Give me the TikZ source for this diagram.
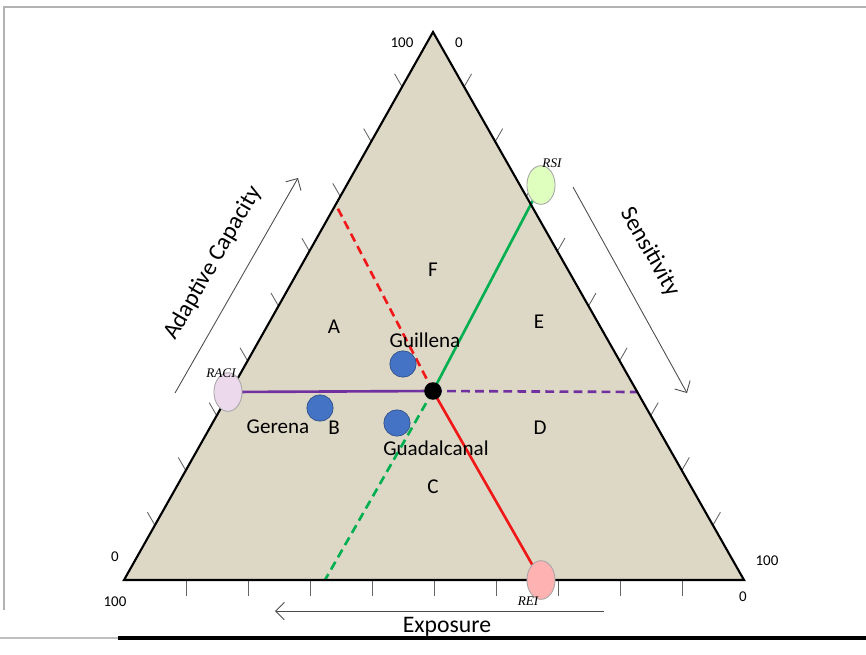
\documentclass[tikz,border=0pt]{standalone}
\usepackage{fontspec}
\setmainfont{Carlito}
\newfontfamily\idxfont{Liberation Serif}
\usepackage{tikz}
\usetikzlibrary{calc,arrows.meta,shapes.geometric}
\usepackage{xcolor}
\definecolor{sand}{HTML}{DDD8C6}
\definecolor{vpurple}{HTML}{7030A0}
\definecolor{vgreen}{HTML}{00B050}
\definecolor{vred}{HTML}{F01818}
\definecolor{siteblue}{HTML}{4472C4}

\begin{document}
\begin{tikzpicture}[x=0.02cm,y=-0.02cm,
  edge/.style={line width=1.2pt,line join=miter},
  tickmark/.style={gray!80!black,line width=0.5pt},
  axis/.style={-{Straight Barb[length=5pt]},gray!60!black,line width=0.5pt},
  axislabel/.style={font=\fontsize{13.5}{15}\selectfont},
  num/.style={font=\fontsize{8.5}{10}\selectfont},
  region/.style={font=\fontsize{12}{14}\selectfont},
  index/.style={draw=gray!70,line width=0.5pt,ellipse,minimum width=16,minimum height=22,inner sep=0pt},
  idx/.style={font=\idxfont\itshape\fontsize{7.5}{9}\selectfont},
  site/.style={circle,fill=siteblue,draw=siteblue!70!black,line width=0.4pt,minimum size=15,inner sep=0pt},
  score/.style={line width=1.5pt},
  scoredash/.style={score,dash pattern=on 5pt off 3pt},
  every node/.style={align=center}]

  \useasboundingbox (0,0) rectangle (866,654);

  % frame of the slide
  \draw[gray!60,line width=0.6pt] (866,7) -- (4,7) -- (4,610);
  \draw[gray!50,line width=0.6pt] (0,638) -- (118,638);
  \draw[black,line width=2pt] (118,638) -- (866,638);

  % the triangle
  \coordinate (top) at (433,32);
  \coordinate (bl) at (124,580);
  \coordinate (br) at (744,580);
  \fill[sand] (top) -- (bl) -- (br) -- cycle;

  \foreach \i in {1,...,9} {
    \draw[tickmark] ($(bl)!\i/10!(br)$) -- ++(0,16);
    \draw[tickmark] ($(bl)!\i/10!(top)$) -- ++(-7.5,-13);
    \draw[tickmark] ($(br)!\i/10!(top)$) -- ++(7.5,-13);
  }

  \node[num] (t100) at (402,43) {100};
  \node[num] (t0) at (459,43) {0};
  \node[num] (l0) at (115,557) {0};
  \node[num] (l100) at (115,602) {100};
  \node[num] (r100) at (767,561) {100};
  \node[num] (r0) at (743,597) {0};

  % regions
  \node[region] (rF) at (433,270) {F};
  \node[region] (rA) at (334,327) {A};
  \node[region] (rE) at (539,322) {E};
  \node[region] (rB) at (334,428) {B};
  \node[region] (rD) at (540,428) {D};
  \node[region] (rC) at (433,487) {C};

  % scores
  \coordinate (mid) at (433,391);
  \coordinate (racipos) at (228,392);
  \coordinate (rsipos) at (541,185);
  \coordinate (reipos) at (541,580);
  \coordinate (acEnd) at (638,392);
  \coordinate (sEnd) at (325,580);
  \coordinate (eEnd) at (337,207);

  \draw[score,vpurple] (racipos) -- (mid);
  \draw[scoredash,vpurple] (mid) -- (acEnd);
  \draw[score,vgreen] (rsipos) -- (mid);
  \draw[scoredash,vgreen] (mid) -- (sEnd);
  \draw[score,vred] (reipos) -- (mid);
  \draw[scoredash,vred] (mid) -- (eEnd);

  \draw[edge] (top) -- (bl) -- (br) -- cycle;

  \node[circle,fill=black,minimum size=10,inner sep=0pt] (centre) at (mid) {};
  \node[index,fill=violet!15] (raci) at (racipos) {};
  \node[index,fill=green!50!yellow!25] (rsi) at (rsipos) {};
  \node[index,fill=red!30] (rei) at (reipos) {};

  \node[idx] (raciLbl) at (221,373) {RACI};
  \node[idx] (rsiLbl) at (552,163) {RSI};
  \node[idx] (reiLbl) at (528,601) {REI};

  % municipalities
  \node[site] (guillena) at (403,364) {};
  \node[site] (gerena) at (320,408) {};
  \node[site] (guadalcanal) at (397,423) {};
  \node[region] (guillenaLbl) at (425,340) {Guillena};
  \node[region] (gerenaLbl) at (278,427) {Gerena};
  \node[region] (guadalcanalLbl) at (436,448) {Guadalcanal};

  % axes
  \coordinate (acA) at (175,393);
  \coordinate (acB) at (298,178);
  \draw[axis] (acA) -- (acB);
  \node[axislabel,rotate=60] (acLbl) at (213,263) {Adaptive Capacity};
  \coordinate (sA) at (573,187);
  \coordinate (sB) at (687,393);
  \draw[axis] (sA) -- (sB);
  \node[axislabel,rotate=-60] (sLbl) at (650,252) {Sensitivity};
  \coordinate (eA) at (604,611);
  \coordinate (eB) at (275,611);
  \draw[axis] (eA) -- (eB);
  \node[axislabel] (eLbl) at (447,627) {Exposure};
\end{tikzpicture}
\end{document}
